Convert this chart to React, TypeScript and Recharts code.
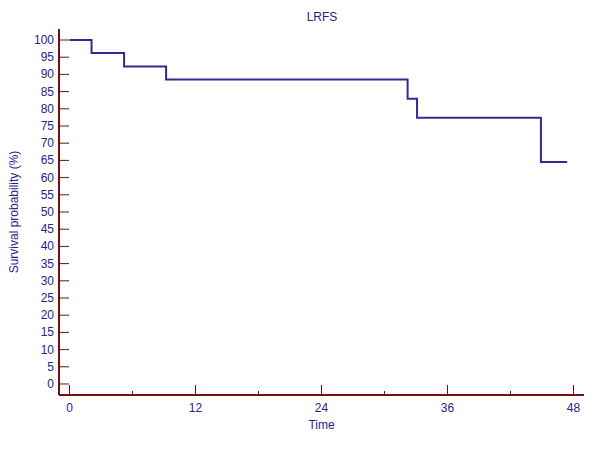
import { LineChart, Line, XAxis, YAxis } from 'recharts';

// Kaplan-Meier style step curve (LRFS)
const times = [0, 2.1, 5.2, 9.2, 32.2, 33.1, 44.9, 47.4];
const survival = [100, 96.2, 92.3, 88.5, 82.9, 77.4, 64.5, 64.5];
const xTicks = [0, 6, 12, 18, 24, 30, 36, 42, 48];
const xLabelled = [0, 12, 24, 36, 48];
const yTicks = [0, 5, 10, 15, 20, 25, 30, 35, 40, 45, 50, 55, 60, 65, 70, 75, 80, 85, 90, 95, 100];

const data = times.map((t, i) => ({ t, s: survival[i] }));

const axisColor = '#6e1212';
const textColor = '#24248a';
const lineColor = '#2d2d91';
const font = '"Liberation Sans", Arial, sans-serif';

const XTick = (props: any) => {
    const { x, y, payload } = props;
    const major = xLabelled.includes(payload.value);
    return (
        <g>
            <line x1={x} x2={x} y1={y} y2={y - (major ? 10 : 4)} stroke={axisColor} strokeWidth={1} />
            {major && (
                <text x={x} y={y + 17} textAnchor="middle" fill={textColor} fontSize={12} fontFamily={font}>
                    {payload.value}
                </text>
            )}
        </g>
    );
};

const YTick = (props: any) => {
    const { x, y, payload } = props;
    return (
        <g>
            <line x1={x} x2={x + 10} y1={y} y2={y} stroke={axisColor} strokeWidth={1} />
            <text x={x - 5} y={y + 4} textAnchor="end" fill={textColor} fontSize={12} fontFamily={font}>
                {payload.value}
            </text>
        </g>
    );
};

export default function App() {
    return (
        <div style={{ position: 'absolute', left: 0, top: 0, width: 600, height: 449, background: '#fff' }}>
            <div style={{ position: 'absolute', left: 322, top: 10, transform: 'translateX(-50%)', color: textColor, fontSize: 12, fontFamily: font }}>
                LRFS
            </div>
            <LineChart width={600} height={449} data={data} margin={{ top: 29, right: 16, left: 14, bottom: 24 }}>
                <XAxis
                    dataKey="t"
                    type="number"
                    domain={[-1, 49]}
                    ticks={xTicks}
                    interval={0}
                    allowDataOverflow
                    height={30}
                    tickSize={0}
                    tickMargin={0}
                    tickLine={false}
                    tick={<XTick />}
                    axisLine={{ stroke: axisColor, strokeWidth: 2 }}
                    label={{ value: 'Time', position: 'insideBottom', offset: -4, fill: textColor, fontSize: 12, fontFamily: font }}
                />
                <YAxis
                    type="number"
                    domain={[-3.2, 103.2]}
                    ticks={yTicks}
                    interval={0}
                    allowDataOverflow
                    width={45}
                    tickSize={0}
                    tickMargin={0}
                    tickLine={false}
                    tick={<YTick />}
                    axisLine={{ stroke: axisColor, strokeWidth: 2 }}
                    label={{ value: 'Survival probability (%)', angle: -90, position: 'insideLeft', offset: 0, fill: textColor, fontSize: 12, fontFamily: font, style: { textAnchor: 'middle' } }}
                />
                <Line type="stepAfter" dataKey="s" stroke={lineColor} strokeWidth={2} dot={false} isAnimationActive={false} />
            </LineChart>
        </div>
    );
}
